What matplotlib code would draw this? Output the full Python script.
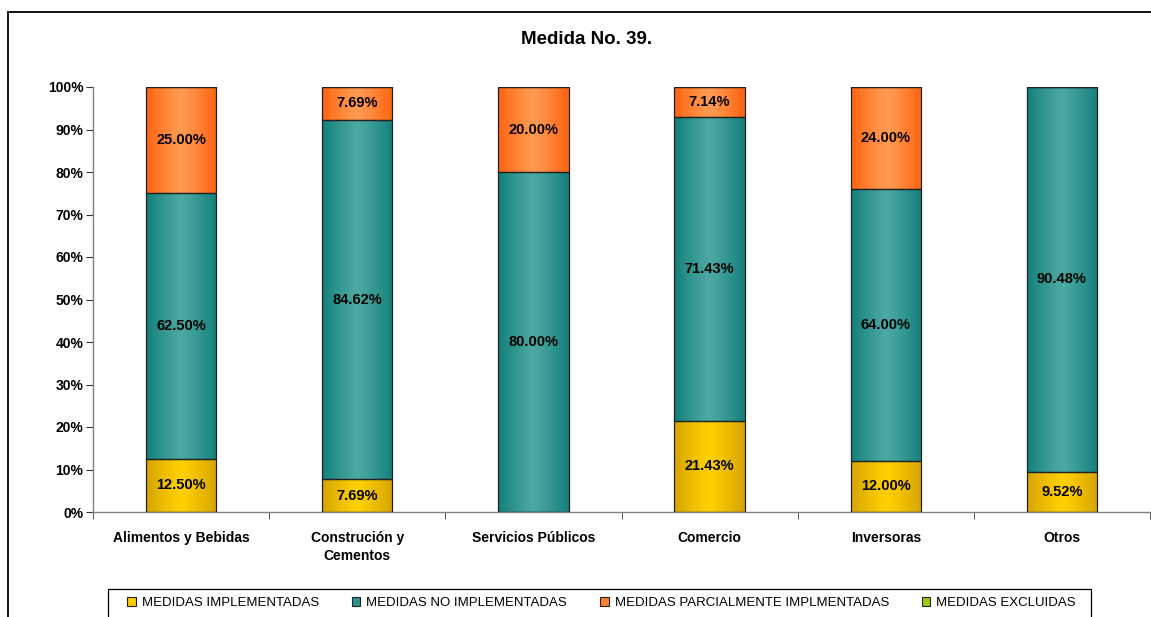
import numpy as np
import matplotlib.pyplot as plt
from matplotlib.colors import LinearSegmentedColormap
from matplotlib.patches import Patch, Rectangle

#data
categorias = ['Alimentos y Bebidas', 'Construción y\nCementos', 'Servicios Públicos',
              'Comercio', 'Inversoras', 'Otros']
implementadas = [12.50, 7.69, 0.00, 21.43, 12.00, 9.52]
no_implementadas = [62.50, 84.62, 80.00, 71.43, 64.00, 90.48]
parciales = [25.00, 7.69, 20.00, 7.14, 24.00, 0.00]
excluidas = [0.00, 0.00, 0.00, 0.00, 0.00, 0.00]
series_names = ['MEDIDAS IMPLEMENTADAS', 'MEDIDAS NO IMPLEMENTADAS',
                'MEDIDAS PARCIALMENTE IMPLMENTADAS', 'MEDIDAS EXCLUIDAS']
yticks = list(range(0, 101, 10))

#colours: (edge of bar, centre of bar)
grads = [('#D6A400', '#FFD000'), ('#12807A', '#4CA8A2'),
         ('#FF6410', '#FF9A50'), ('#7FB800', '#A8DC20')]
legend_cols = ['#FFCC00', '#2A9490', '#FF7F30', '#99CC00']

plt.rcParams['font.family'] = ['Liberation Sans', 'DejaVu Sans']

W, H = 1151, 617
fig = plt.figure(figsize=(W / 100, H / 100), dpi=100)
ax = fig.add_axes([93 / W, 1 - 512 / H, (1150 - 93) / W, (512 - 87) / H])

#outer frame
fig.patches.append(Rectangle((8 / W, -0.2), 1.2, (H - 12) / H + 0.2, transform=fig.transFigure,
                             fill=False, edgecolor='black', linewidth=1.3))
#legend box
fig.patches.append(Rectangle((108 / W, -0.1), (1091 - 108) / W, (H - 589) / H + 0.1,
                             transform=fig.transFigure, fill=False, edgecolor='black',
                             linewidth=0.9))

x = np.arange(len(categorias))
width = 0.4
grad = np.abs(np.linspace(-1, 1, 64))[None, :]
grad = 1 - grad ** 1.2

bottom = np.zeros(len(categorias))
for i, vals in enumerate([implementadas, no_implementadas, parciales, excluidas]):
    cmap = LinearSegmentedColormap.from_list(f'g{i}', list(grads[i]))
    vals = np.array(vals)
    for xi, b, v in zip(x, bottom, vals):
        if v <= 0:
            continue
        ax.imshow(grad, extent=(xi - width / 2, xi + width / 2, b, b + v), aspect='auto',
                  cmap=cmap, vmin=0, vmax=1, zorder=2, interpolation='bilinear')
        ax.text(xi, b + v / 2, f'{v:.2f}%', ha='center', va='center',
                fontsize=10.5, fontweight='bold', zorder=4)
    ax.bar(x, vals, width, bottom=bottom, facecolor='none', edgecolor='#222222',
           linewidth=0.9, zorder=3)
    bottom += vals

ax.set_xlim(-0.5, len(categorias) - 0.5)
ax.set_ylim(0, 100)
ax.set_aspect('auto')

ax.set_yticks(yticks)
ax.set_yticklabels([f'{t}%' for t in yticks], fontsize=10, fontweight='bold')
ax.set_xticks(x)
ax.set_xticklabels(categorias, fontsize=10, fontweight='bold', linespacing=1.3)
ax.set_xticks(np.arange(len(categorias) + 1) - 0.5, minor=True)
ax.tick_params(axis='x', which='major', length=0, pad=14)
ax.tick_params(axis='x', which='minor', length=5, color='#333333', direction='out')
ax.tick_params(axis='y', length=5, color='#333333', direction='out', pad=2)

for s in ['top', 'right']:
    ax.spines[s].set_visible(False)
for s in ['left', 'bottom']:
    ax.spines[s].set_color('#808080')
    ax.spines[s].set_linewidth(1.0)

fig.text(587 / W, 1 - 40 / H, 'Medida No. 39.', ha='center', va='center',
         fontsize=13.5, fontweight='bold')

handles = [Patch(facecolor=c, edgecolor='#222222', linewidth=0.8) for c in legend_cols]
leg = fig.legend(handles, series_names, loc='center left', bbox_to_anchor=(127 / W, 1 - 603 / H),
                 ncol=4, frameon=False, prop={'size': 9.5}, handlelength=0.65, handleheight=0.65,
                 handletextpad=0.45, columnspacing=2.5, borderpad=0, borderaxespad=0)

plt.savefig('out.png', dpi=100)
plt.close()
